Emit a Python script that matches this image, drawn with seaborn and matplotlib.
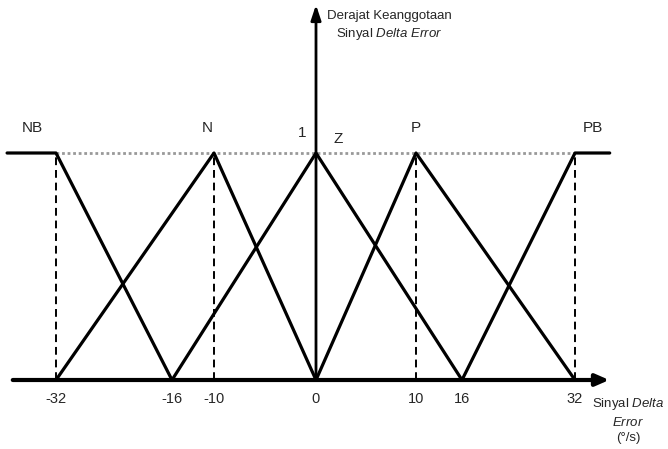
import matplotlib
matplotlib.use("Agg")
import matplotlib.pyplot as plt
import seaborn as sns
import numpy as np
import pandas as pd
from matplotlib import font_manager

# Fungsi keanggotaan sinyal delta error (°/s)
himpunan = ["NB", "N", "Z", "P", "PB"]
titik_x = {
    "NB": [-38, -32, -16],
    "N": [-32, -10, 0],
    "Z": [-16, 0, 16],
    "P": [0, 10, 32],
    "PB": [16, 32, 37],
}
titik_mu = {
    "NB": [1, 1, 0],
    "N": [0, 1, 0],
    "Z": [0, 1, 0],
    "P": [0, 1, 0],
    "PB": [0, 1, 1],
}
label_tick = [-32, -16, -10, 0, 10, 16, 32]
garis_putus = [-32, -10, 10, 32]

rows = []
for h in himpunan:
    for x, m in zip(titik_x[h], titik_mu[h]):
        rows.append({"x": x, "mu": m, "himpunan": h})
df = pd.DataFrame(rows)

# skala sumbu x tidak linear pada gambar asli (sketsa), jadi dipetakan per segmen
skala_data = [-45, -32, -16, -10, 0, 10, 16, 32, 50]
skala_pos = [-50, 56, 172, 214, 316, 416, 462, 575, 700]

def maju(v):
    return np.interp(v, skala_data, skala_pos)

def balik(p):
    return np.interp(p, skala_pos, skala_data)

sns.set_style("white")
nama_font = {f.name for f in font_manager.fontManager.ttflist}
if "Liberation Sans Narrow" in nama_font:
    font = "Liberation Sans Narrow"
else:
    font = "Liberation Sans"
plt.rcParams["font.family"] = [font, "DejaVu Sans"]
plt.rcParams["mathtext.fontset"] = "custom"
plt.rcParams["mathtext.rm"] = font
plt.rcParams["mathtext.it"] = font + ":italic"

fig = plt.figure(figsize=(6.68, 4.49), dpi=100)
ax = fig.add_axes([0, 0, 1, 1])
ax.set_xscale("function", functions=(maju, balik))
ax.set_xlim(balik(0), balik(668))
ax.set_ylim(-(449 - 380) / 227, 380 / 227)
ax.axis("off")

# garis bantu
ax.plot([-32, 32], [1, 1], color="#999999", ls=(0, (1, 1)), lw=2, zorder=1)
for g in garis_putus:
    ax.plot([g, g], [0, 1], color="black", ls=(0, (4, 2.5)), lw=1.4, zorder=1)

sns.lineplot(data=df, x="x", y="mu", units="himpunan", estimator=None,
             sort=False, color="black", lw=2.3, ax=ax, zorder=3)

# sumbu dengan panah
ax.annotate("", xy=(balik(612), 0), xytext=(balik(10), 0),
            arrowprops=dict(arrowstyle="-|>,head_length=0.8,head_width=0.35",
                            color="black", lw=3), zorder=4)
ax.annotate("", xy=(0, 1.665), xytext=(0, 0),
            arrowprops=dict(arrowstyle="-|>,head_length=0.9,head_width=0.3",
                            color="black", lw=2), zorder=4)

for t in label_tick:
    ax.text(t, -0.055, str(t), ha="center", va="top", fontsize=10.5)

# label himpunan
ax.text(balik(22), 1.11, "NB", ha="left", va="center", fontsize=11)
ax.text(balik(207), 1.11, "N", ha="center", va="center", fontsize=11)
ax.text(balik(416), 1.11, "P", ha="center", va="center", fontsize=11)
ax.text(balik(593), 1.11, "PB", ha="center", va="center", fontsize=11)
ax.text(balik(302), 1.09, "1", ha="center", va="center", fontsize=11)
ax.text(balik(338), 1.06, "Z", ha="center", va="center", fontsize=11)

ax.text(balik(327), 1.63, "Derajat Keanggotaan\nSinyal $\\mathit{Delta\\ Error}$",
        ha="left", va="top", multialignment="center", fontsize=9.5,
        linespacing=1.4)
ax.text(balik(628), -0.07, "Sinyal $\\mathit{Delta}$\n$\\mathit{Error}$\n(°/s)",
        ha="center", va="top", fontsize=9.5, linespacing=1.4)

fig.savefig("out.png", dpi=100)
